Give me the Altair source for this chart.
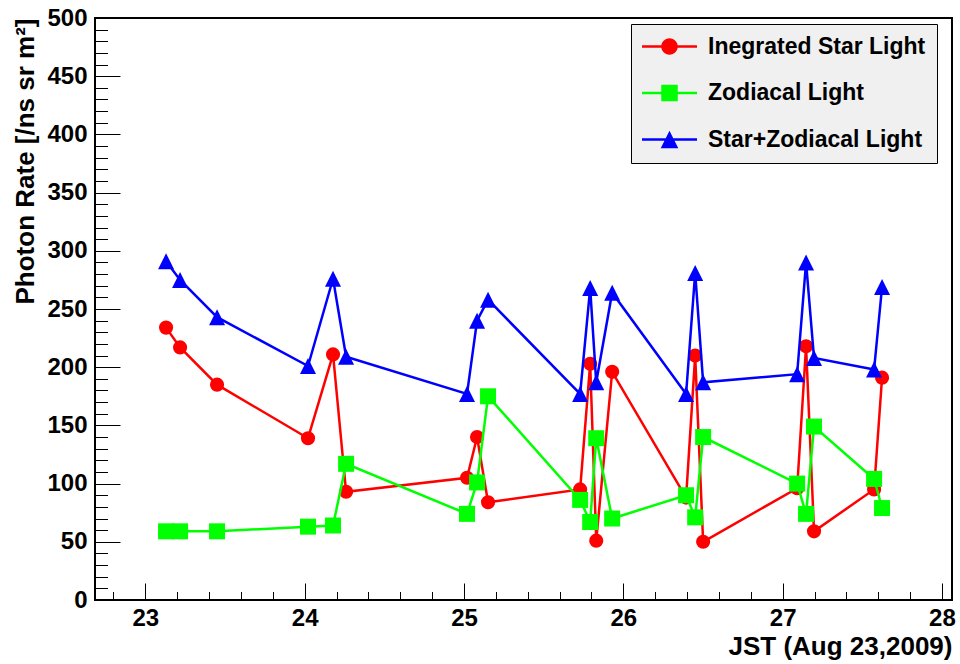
import altair as alt
import pandas as pd

# ---- data ----
times = [23.130, 23.218, 23.450, 24.021, 24.178, 24.260, 25.019, 25.082, 25.151,
         25.729, 25.792, 25.830, 25.930, 26.394, 26.451, 26.501, 27.091, 27.147,
         27.197, 27.574, 27.624]
star_light = [234, 217, 185, 139, 211, 93, 105, 140, 84, 95, 203, 51, 196, 88,
              210, 50, 96, 218, 59, 95, 191]
zodiacal_light = [59, 59, 59, 63, 64, 117, 74, 101, 175, 86, 67, 139, 70, 90,
                  71, 140, 100, 74, 149, 104, 79]
star_zodiacal = [291, 275, 243, 201, 276, 209, 177, 240, 258, 177, 268, 187, 264,
                 177, 281, 187, 194, 290, 208, 198, 269]

series_names = ["Inegrated Star Light", "Zodiacal Light", "Star+Zodiacal Light"]
series_colors = ["#ff0000", "#00ff00", "#0000ff"]

x_major = [23, 24, 25, 26, 27, 28]
x_minor = [22.8, 23.0, 23.2, 23.4, 23.6, 23.8, 24.0, 24.2, 24.4, 24.6, 24.8, 25.0,
           25.2, 25.4, 25.6, 25.8, 26.0, 26.2, 26.4, 26.6, 26.8, 27.0, 27.2, 27.4,
           27.6, 27.8, 28.0]
y_major = [0, 50, 100, 150, 200, 250, 300, 350, 400, 450, 500]
y_minor = list(range(0, 501, 10))

rows = []
for name, vals in zip(series_names, [star_light, zodiacal_light, star_zodiacal]):
    for t, v in zip(times, vals):
        rows.append({"time": t, "rate": v, "series": name})
df = pd.DataFrame(rows)

W, H = 857, 582
X_DOM = [22.684, 28.063]
Y_DOM = [0, 500]
FONT = "Liberation Sans"


def xenc(axis=None):
    return alt.X("time:Q", scale=alt.Scale(domain=X_DOM, nice=False, zero=False), axis=axis)


def yenc(axis=None):
    return alt.Y("rate:Q", scale=alt.Scale(domain=Y_DOM, nice=False, zero=False), axis=axis)


base = alt.Chart(df)

# labels + titles
label_layer = base.transform_filter("false").mark_point(opacity=0).encode(
    x=xenc(alt.Axis(orient="bottom", values=x_major, format="d", ticks=False, domain=False,
                    grid=False, labelFont=FONT, labelFontSize=24, labelFontWeight="bold",
                    labelColor="black", labelPadding=6, labelFlush=False, labelOverlap=False,
                    labelBound=False,
                    title="JST (Aug 23,2009)", titleFont=FONT, titleFontSize=26,
                    titleFontWeight="bold", titleColor="black", titleX=W, titleY=54,
                    titleAlign="right", titleBaseline="alphabetic", titleAngle=0)),
    y=yenc(alt.Axis(orient="left", values=y_major, format="d", ticks=False, domain=False,
                    grid=False, labelFont=FONT, labelFontSize=24, labelFontWeight="bold",
                    labelColor="black", labelPadding=8, labelFlush=False, labelOverlap=False,
                    labelBound=False,
                    title="Photon Rate [/ns sr m²]", titleFont=FONT, titleFontSize=26,
                    titleFontWeight="bold", titleColor="black", titleX=-62, titleY=0,
                    titleAlign="right", titleBaseline="alphabetic", titleAngle=270)),
)

# inward major ticks
major_layer = base.transform_filter("false").mark_point(opacity=0).encode(
    x=xenc(alt.Axis(orient="top", offset=-H, values=x_major, labels=False, domain=False,
                    grid=False, tickSize=17, tickColor="black", tickWidth=1, title=None)),
    y=yenc(alt.Axis(orient="right", offset=-W, values=y_major, labels=False, domain=False,
                    grid=False, tickSize=25, tickColor="black", tickWidth=1, title=None)),
)

# inward minor ticks
minor_layer = base.transform_filter("false").mark_point(opacity=0).encode(
    x=xenc(alt.Axis(orient="top", offset=-H, values=x_minor, labels=False, domain=False,
                    grid=False, tickSize=8.5, tickColor="black", tickWidth=1, title=None)),
    y=yenc(alt.Axis(orient="right", offset=-W, values=y_minor, labels=False, domain=False,
                    grid=False, tickSize=12.5, tickColor="black", tickWidth=1, title=None)),
)

marker_shapes = ["circle", "square", "M0,-1L1,1L-1,1Z"]
marker_sizes = [200, 256, 256]

series_layers = []
for name, col, shp, sz in zip(series_names, series_colors, marker_shapes, marker_sizes):
    sub = base.transform_filter(alt.datum.series == name)
    series_layers.append(sub.mark_line(color=col, strokeWidth=2.5).encode(x=xenc(None), y=yenc(None)))
    series_layers.append(sub.mark_point(shape=shp, size=sz, filled=True, color=col, opacity=1,
                                        strokeWidth=0).encode(x=xenc(None), y=yenc(None)))

legend_paths = [
    "M-1,-0.045H1V0.045H-1Z M0.3,0A0.3,0.3 0 1,1 -0.3,0A0.3,0.3 0 1,1 0.3,0Z",
    "M-1,-0.045H1V0.045H-1Z M-0.3,-0.3H0.3V0.3H-0.3Z",
    "M-1,-0.045H1V0.045H-1Z M0,-0.32L0.32,0.32L-0.32,0.32Z",
]

legend_kw = dict(orient="none", legendX=536, legendY=6, title=None, padding=11,
                 fillColor="#f0f0f0", strokeColor="black", symbolSize=3025,
                 symbolStrokeWidth=0, symbolOpacity=1, labelFont=FONT, labelFontSize=23,
                 labelFontWeight="bold", labelColor="black", labelOffset=11, labelLimit=500,
                 rowPadding=22.5, clipHeight=23)

legend_layer = base.transform_filter("false").mark_point(filled=True, size=3025, opacity=1).encode(
    color=alt.Color("series:N", scale=alt.Scale(domain=series_names, range=series_colors),
                    legend=alt.Legend(**legend_kw)),
    shape=alt.Shape("series:N", scale=alt.Scale(domain=series_names, range=legend_paths),
                    legend=alt.Legend(**legend_kw)),
)

chart = alt.layer(label_layer, *series_layers, major_layer, minor_layer, legend_layer).resolve_axis(
    x="independent", y="independent"
).properties(
    width=W, height=H, autosize="none",
    padding={"left": 95, "top": 18, "right": 8, "bottom": 64},
    background="white",
).configure_view(stroke="black", strokeWidth=2)

chart.save("out.html", embed_options={"renderer": "svg", "actions": False})
